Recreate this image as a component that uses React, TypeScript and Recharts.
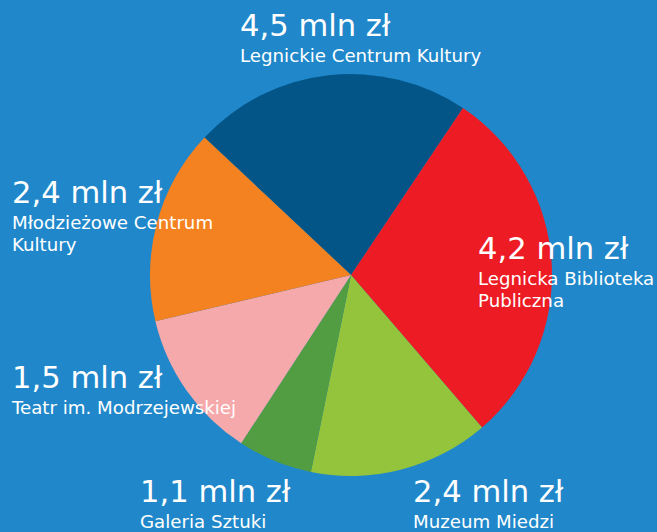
import React from 'react';
import { PieChart, Pie, Cell } from 'recharts';

// Names of the institutions, split into the lines they are printed on
const institutionLines = [
  ['Legnickie Centrum Kultury'],
  ['Legnicka Biblioteka', 'Publiczna'],
  ['Muzeum Miedzi'],
  ['Galeria Sztuki'],
  ['Teatr im. Modrzejewskiej'],
  ['Młodzieżowe Centrum', 'Kultury'],
];

// Amounts printed on the chart (mln zł)
const amountsMln = [4.5, 4.2, 2.4, 1.1, 1.5, 2.4];

// Share of the circle each slice takes in the picture (%)
const sliceShares = [22.4, 29.3, 14.5, 6.0, 12.1, 15.7];

const sliceColors = ['#035587', '#ED1C24', '#93C43B', '#529C41', '#F5A9AA', '#F58220'];

// where each text block sits (left x, baseline of the amount line)
const labelAnchors = [
  { x: 240, y: 36 },
  { x: 478, y: 259 },
  { x: 413, y: 502 },
  { x: 140, y: 502 },
  { x: 12, y: 388 },
  { x: 12, y: 203 },
];

const data = institutionLines.map((lines, i) => ({
  name: lines.join(' '),
  share: sliceShares[i],
  amount: amountsMln[i],
}));

const fmt = (v: number) => v.toFixed(1).replace('.', ',') + ' mln zł';

const renderLabel = (props: any) => {
  const i = props.index;
  const pos = labelAnchors[i];
  return (
    <g key={`lbl-${i}`} fontFamily="DejaVu Sans" fill="#fff">
      <text x={pos.x} y={pos.y} fontSize={30.6} fill="#fff">
        {fmt(amountsMln[i])}
      </text>
      {institutionLines[i].map((line, j) => (
        <text key={j} x={pos.x} y={pos.y + 26 + j * 22} fontSize={18.2} fill="#fff">
          {line}
        </text>
      ))}
    </g>
  );
};

export default function App() {
  return (
    <div style={{ position: 'fixed', left: 0, top: 0, width: 657, height: 532, background: '#2088CA' }}>
      <PieChart width={657} height={532} margin={{ top: 0, right: 0, bottom: 0, left: 0 }}>
        <Pie
          data={data}
          dataKey="share"
          nameKey="name"
          cx={351}
          cy={275}
          outerRadius={201}
          startAngle={136.8}
          endAngle={-223.2}
          stroke="none"
          labelLine={false}
          label={renderLabel}
          isAnimationActive={false}
        >
          {data.map((d, i) => (
            <Cell key={d.name} fill={sliceColors[i]} />
          ))}
        </Pie>
      </PieChart>
    </div>
  );
}
